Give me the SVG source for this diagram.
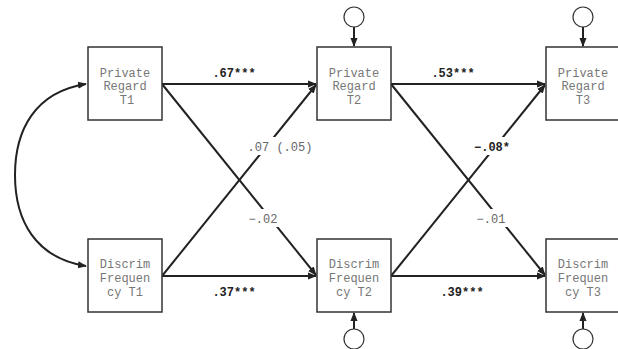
<svg xmlns="http://www.w3.org/2000/svg" width="618" height="349" viewBox="0 0 618 349">
<defs>
<marker id="ah" viewBox="0 0 10 10" refX="9" refY="5" markerWidth="9" markerHeight="9" markerUnits="userSpaceOnUse" orient="auto-start-reverse">
<path d="M0,1 L10,5 L0,9 Z" fill="#222"/>
</marker>
<style>
.box{fill:#fff;stroke:#333;stroke-width:1.5}
.nt{font-family:"Liberation Mono","Courier New",monospace;font-size:12px;fill:#777;text-anchor:middle}
.ln{fill:none;stroke:#222;stroke-width:2}
.lb{font-family:"Liberation Mono","Courier New",monospace;font-size:12px;text-anchor:middle}
.b{font-weight:bold;fill:#222}
.r{fill:#666}
.err{fill:#fff;stroke:#333;stroke-width:1.2}
</style>
</defs>
<g id="connectors">
<path class="ln" d="M86,84 C35,92 15,130 15,175 C15,220 35,258 86,266" marker-start="url(#ah)" marker-end="url(#ah)"/>
<line class="ln" x1="162" y1="84" x2="316" y2="84" marker-end="url(#ah)"/>
<line class="ln" x1="162" y1="276" x2="316" y2="276" marker-end="url(#ah)"/>
<line class="ln" x1="162" y1="84" x2="316" y2="275" marker-end="url(#ah)"/>
<line class="ln" x1="162" y1="276" x2="316" y2="85" marker-end="url(#ah)"/>
<line class="ln" x1="391" y1="84" x2="545" y2="84" marker-end="url(#ah)"/>
<line class="ln" x1="391" y1="276" x2="545" y2="276" marker-end="url(#ah)"/>
<line class="ln" x1="391" y1="84" x2="545" y2="275" marker-end="url(#ah)"/>
<line class="ln" x1="391" y1="276" x2="545" y2="85" marker-end="url(#ah)"/>
<line class="ln" x1="354" y1="27" x2="354" y2="46" marker-end="url(#ah)"/>
<line class="ln" x1="583" y1="27" x2="583" y2="46" marker-end="url(#ah)"/>
<line class="ln" x1="354" y1="329" x2="354" y2="313" marker-end="url(#ah)"/>
<line class="ln" x1="583" y1="329" x2="583" y2="313" marker-end="url(#ah)"/>
<rect x="247" y="137" width="66" height="18" fill="#fff"/>
<rect x="246" y="209" width="34" height="18" fill="#fff"/>
<rect x="474" y="137" width="36" height="18" fill="#fff"/>
<rect x="474" y="209" width="34" height="18" fill="#fff"/>
<text class="lb b" x="234" y="77">.67***</text>
<text class="lb b" x="234" y="296">.37***</text>
<text class="lb r" x="280" y="151">.07 (.05)</text>
<text class="lb r" x="263" y="223">−.02</text>
<text class="lb b" x="453" y="77">.53***</text>
<text class="lb b" x="462" y="296">.39***</text>
<text class="lb b" x="492" y="151">−.08*</text>
<text class="lb r" x="491" y="223">−.01</text>
</g>
<g id="pr1"><rect class="box" x="88" y="47" width="74" height="73"/><text class="nt" x="125" y="77">Private</text><text class="nt" x="125" y="90">Regard</text><text class="nt" x="127" y="104">T1</text></g>
<g id="pr2"><rect class="box" x="317" y="47" width="74" height="73"/><text class="nt" x="354" y="77">Private</text><text class="nt" x="354" y="90">Regard</text><text class="nt" x="354" y="104">T2</text></g>
<g id="pr3"><rect class="box" x="546" y="47" width="74" height="73"/><text class="nt" x="583" y="77">Private</text><text class="nt" x="583" y="90">Regard</text><text class="nt" x="583" y="104">T3</text></g>
<g id="df1"><rect class="box" x="88" y="239" width="74" height="73"/><text class="nt" x="125" y="268">Discrim</text><text class="nt" x="125" y="282">Frequen</text><text class="nt" x="125" y="296">cy T1</text></g>
<g id="df2"><rect class="box" x="317" y="239" width="74" height="73"/><text class="nt" x="354" y="268">Discrim</text><text class="nt" x="354" y="282">Frequen</text><text class="nt" x="354" y="296">cy T2</text></g>
<g id="df3"><rect class="box" x="546" y="239" width="74" height="73"/><text class="nt" x="583" y="268">Discrim</text><text class="nt" x="583" y="282">Frequen</text><text class="nt" x="583" y="296">cy T3</text></g>
<g id="e_pr2"><circle class="err" cx="354" cy="17" r="10"/></g>
<g id="e_pr3"><circle class="err" cx="583" cy="17" r="10"/></g>
<g id="e_df2"><circle class="err" cx="354" cy="339" r="10"/></g>
<g id="e_df3"><circle class="err" cx="583" cy="339" r="10"/></g>
</svg>
